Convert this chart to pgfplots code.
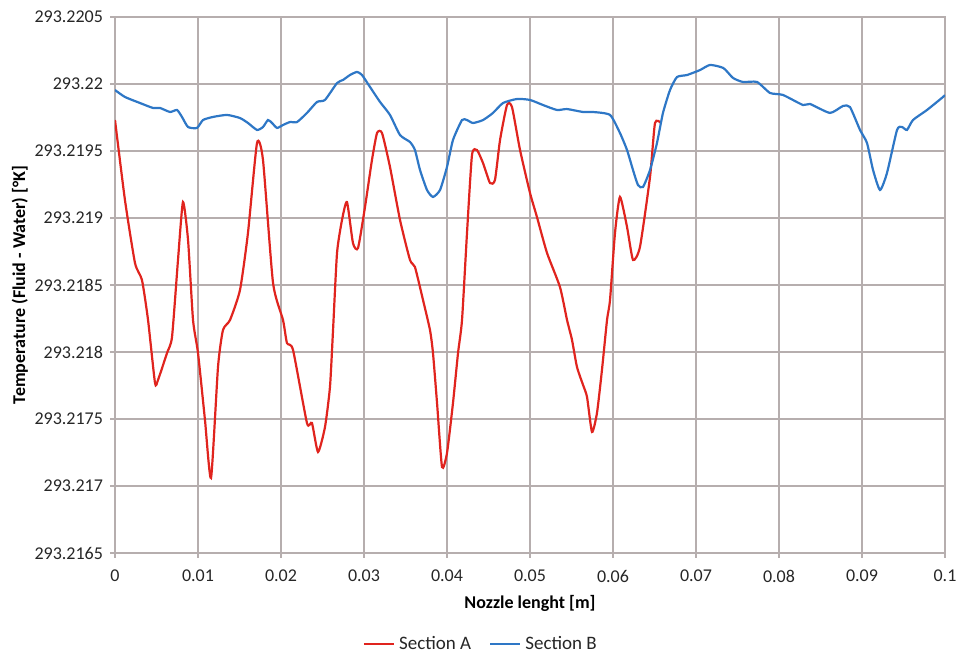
\documentclass[border=0pt]{standalone}
\usepackage{fontspec}
\setmainfont{Carlito}
\usepackage{xfp}
\usepackage{pgfplots}
\pgfplotsset{compat=1.18}
\definecolor{secA}{RGB}{224,36,30}
\definecolor{secB}{RGB}{46,119,198}
\definecolor{gridc}{RGB}{182,174,174}
\begin{document}
\begin{tikzpicture}
\begin{axis}[
  at={(0,0)}, anchor=south west,
  scale only axis, width=415pt, height=268pt,
  /pgf/number format/assume math mode=true,
  font=\fontsize{9}{10}\selectfont,
  y coord trafo/.code={\edef\pgfmathresult{\fpeval{(#1-293.2165)*10000}}},
  xmin=0, xmax=0.1, ymin=293.2165, ymax=293.2205,
  xtick={0,0.01,0.02,0.03,0.04,0.05,0.06,0.07,0.08,0.09,0.1},
  xticklabels={0,0.01,0.02,0.03,0.04,0.05,0.06,0.07,0.08,0.09,0.1},
  ytick={293.2165,293.217,293.2175,293.218,293.2185,293.219,293.2195,293.22,293.2205},
  yticklabels={293.2165,293.217,293.2175,293.218,293.2185,293.219,293.2195,293.22,293.2205},
  grid=major, major grid style={gridc, line width=0.6pt},
  axis line style={gridc, line width=0.6pt},
  tick style={gridc, line width=0.6pt},
  tick align=outside, major tick length=2.5pt,
  xtick pos=bottom, ytick pos=left,
  ticklabel style={text=black!85},
  xticklabel style={yshift=-2.5pt},
  every axis y label/.style={at={(axis description cs:-0.1145,0.5)}, rotate=90, anchor=center},
  every axis x label/.style={at={(axis description cs:0.5,-0.0933)}, anchor=center},
  ylabel={\bfseries Temperature (Fluid - Water) [°K]},
  xlabel={\bfseries Nozzle lenght [m]},
  legend style={at={(axis description cs:0.442,-0.170)}, anchor=center, draw=none, fill=none,
    legend columns=2, font=\fontsize{9.5}{10}\selectfont, text=black!85,
    /tikz/every even column/.append style={column sep=7pt}},
  legend image code/.code={\draw[#1] (0pt,0pt) -- (15pt,0pt);},
]
\addplot[secA, line width=1.1pt, smooth, tension=0.35] table {
x y
0 293.219731
0.0012 293.219134
0.00241 293.218664
0.00325 293.218537
0.00398 293.218239
0.00482 293.217769
0.00518 293.217791
0.00627 293.217993
0.00687 293.218112
0.00759 293.218687
0.00819 293.219119
0.00880 293.218836
0.0094 293.218239
0.0100 293.217993
0.01084 293.217493
0.01157 293.21706
0.01241 293.217888
0.01301 293.218164
0.01386 293.218239
0.01506 293.218463
0.01602 293.218888
0.01711 293.21956
0.01783 293.219433
0.01904 293.218515
0.02024 293.218239
0.02072 293.218067
0.02145 293.218015
0.02313 293.21747
0.02373 293.21747
0.02446 293.217254
0.0253 293.21744
0.0259 293.217739
0.02627 293.218164
0.02675 293.218739
0.02735 293.218985
0.02795 293.219119
0.02867 293.218813
0.02928 293.218776
0.03012 293.219082
0.03096 293.219433
0.03157 293.219634
0.03217 293.219634
0.03313 293.219381
0.03434 293.218985
0.03554 293.218687
0.03614 293.218634
0.03711 293.218388
0.03795 293.218164
0.03831 293.217993
0.0388 293.217619
0.0394 293.217142
0.04 293.217246
0.04072 293.217619
0.04133 293.217993
0.04181 293.218239
0.04241 293.218888
0.04301 293.21947
0.04361 293.219507
0.04434 293.21941
0.04518 293.219261
0.04578 293.219284
0.04639 293.219582
0.04723 293.219843
0.04783 293.219828
0.0488 293.219507
0.05 293.219187
0.05084 293.219007
0.05205 293.218739
0.05361 293.218485
0.05446 293.218239
0.05506 293.21809
0.05566 293.217888
0.05639 293.217754
0.05687 293.217664
0.05747 293.217403
0.05807 293.217545
0.05867 293.217866
0.05928 293.218239
0.05964 293.218388
0.06024 293.218888
0.06084 293.219157
0.06169 293.218933
0.06241 293.218687
0.06325 293.218784
0.06446 293.219306
0.06506 293.219709
0.06578 293.219709
};
\addlegendentry{Section A}
\addplot[secB, line width=1.1pt, smooth, tension=0.35] table {
x y
0 293.219955
0.0012 293.219903
0.00301 293.219858
0.00458 293.219821
0.00542 293.219821
0.00663 293.219791
0.00747 293.219806
0.00807 293.219754
0.0088 293.219679
0.00988 293.219672
0.0106 293.219731
0.01181 293.219754
0.01349 293.219769
0.01506 293.219746
0.01602 293.219709
0.01711 293.219657
0.01783 293.219679
0.01843 293.219731
0.01892 293.219709
0.01952 293.219672
0.02024 293.219694
0.02108 293.219716
0.02193 293.219716
0.02313 293.219784
0.02434 293.219866
0.0253 293.219881
0.02675 293.220007
0.02747 293.22003
0.02831 293.220067
0.02916 293.22009
0.02976 293.220067
0.03072 293.219978
0.03193 293.219866
0.03313 293.219769
0.03434 293.219619
0.03554 293.219567
0.03614 293.219507
0.03675 293.219358
0.03759 293.219209
0.03831 293.219157
0.03916 293.219209
0.04 293.219381
0.04072 293.219582
0.04181 293.219731
0.04241 293.219731
0.04313 293.219709
0.04434 293.219731
0.04554 293.219784
0.04675 293.219858
0.04843 293.219888
0.05 293.219881
0.05157 293.219843
0.05325 293.219806
0.05446 293.219813
0.05639 293.219791
0.05759 293.219791
0.05964 293.219769
0.06084 293.219634
0.06169 293.219507
0.06241 293.219358
0.06301 293.219246
0.06361 293.219231
0.06446 293.219358
0.0653 293.21956
0.06602 293.219784
0.06687 293.219955
0.06771 293.220052
0.06892 293.220067
0.07048 293.220104
0.07169 293.220142
0.0733 293.220119
0.07446 293.220045
0.07566 293.220015
0.07735 293.220015
0.07892 293.219933
0.08048 293.219918
0.08289 293.219843
0.08373 293.219851
0.08614 293.219784
0.08771 293.219836
0.08855 293.219828
0.08976 293.219657
0.0906 293.21956
0.09133 293.219358
0.09217 293.219209
0.09301 293.219336
0.09422 293.219657
0.09482 293.219679
0.09542 293.219657
0.09614 293.219731
0.09783 293.219806
0.09976 293.219903
0.1 293.219918
};
\addlegendentry{Section B}
\end{axis}
\pgfresetboundingbox
\path (-57.5pt,-51.5pt) rectangle (421.5pt,276.5pt);
\end{tikzpicture}
\end{document}
